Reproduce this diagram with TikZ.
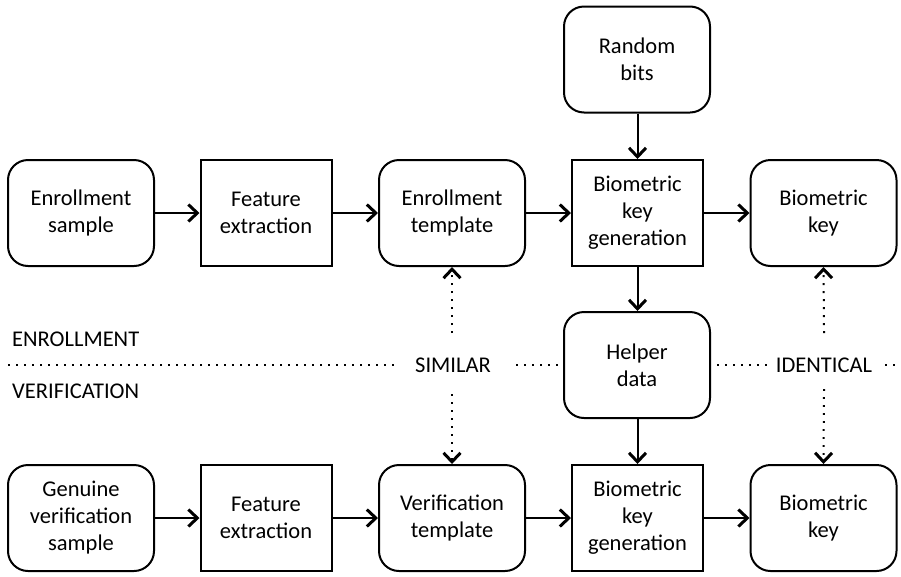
\documentclass[tikz,border=0pt]{standalone}
\usepackage{fontspec}
\setmainfont{Carlito}
\usetikzlibrary{arrows.meta}
\begin{document}
\begin{tikzpicture}[x=1pt,y=-1pt,
  box/.style={draw, line width=2pt, minimum width=146pt, minimum height=106pt, align=center,
    font=\fontsize{22.5}{27}\selectfont, inner sep=0pt},
  rbox/.style={box, rounded corners=20pt},
  sbox/.style={box, minimum width=131pt},
  lbl/.style={font=\fontsize{22.5}{27}\selectfont, inner sep=0pt},
  arr/.style={line width=2pt, -{Straight Barb[length=9pt,width=17pt,line width=3pt]}},
  dotline/.style={line width=2pt, dash pattern=on 1.8pt off 6.2pt},
  darr/.style={dotline, -{Straight Barb[length=9pt,width=17pt,line width=3pt]}}]
\useasboundingbox (0,0) rectangle (901,576);
% row 1
\node[rbox] (es) at (81,213) {Enrollment\\sample};
\node[sbox] (fe1) at (266,213) {Feature\\extraction};
\node[rbox] (et) at (452,213) {Enrollment\\template};
\node[sbox] (bkg1) at (637.5,213) {Biometric\\key\\generation};
\node[rbox] (bk1) at (823.5,213) {Biometric\\key};
\node[rbox] (rb) at (637,59.5) {Random\\bits};
\node[rbox] (hd) at (637,365) {Helper\\data};
% row 2
\node[rbox] (gs) at (81,518) {Genuine\\verification\\sample};
\node[sbox] (fe2) at (266,518) {Feature\\extraction};
\node[rbox] (vt) at (452,518) {Verification\\template};
\node[sbox] (bkg2) at (637.5,518) {Biometric\\key\\generation};
\node[rbox] (bk2) at (823.5,518) {Biometric\\key};
% arrows
\draw[arr] (es) -- (fe1);
\draw[arr] (fe1) -- (et);
\draw[arr] (et) -- (bkg1);
\draw[arr] (bkg1) -- (bk1);
\draw[arr] (gs) -- (fe2);
\draw[arr] (fe2) -- (vt);
\draw[arr] (vt) -- (bkg2);
\draw[arr] (bkg2) -- (bk2);
\draw[arr] (rb.south -| bkg1) -- (bkg1.north);
\draw[arr] (bkg1.south) -- (bkg1.south |- hd.north);
\draw[arr] (hd.south -| bkg2) -- (bkg2.north);
% labels
\node[lbl, anchor=west] (enr) at (12,339) {ENROLLMENT};
\node[lbl, anchor=west] (ver) at (12,391) {VERIFICATION};
\node[lbl] (sim) at (453,365) {SIMILAR};
\node[lbl] (idt) at (824,365) {IDENTICAL};
% dotted lines
\coordinate (d0) at (8,365);
\coordinate (d1) at (396,365);
\coordinate (d2) at (516,365);
\coordinate (d3) at (717,365);
\coordinate (d4) at (767,365);
\coordinate (d5) at (885,365);
\coordinate (d6) at (901,365);
\draw[dotline] (d0) -- (d1);
\draw[dotline] (d2) -- (hd.west);
\draw[dotline] (d3) -- (d4);
\draw[dotline] (d5) -- (d6);
\coordinate (s1) at (452,333);
\coordinate (s2) at (452,394);
\coordinate (i1) at (824,333);
\coordinate (i2) at (824,389);
\draw[darr] (s1) -- (et.south);
\draw[darr] (s2) -- (vt.north);
\draw[darr] (i1) -- (bk1.south);
\draw[darr] (i2) -- (bk2.north);
\end{tikzpicture}
\end{document}
